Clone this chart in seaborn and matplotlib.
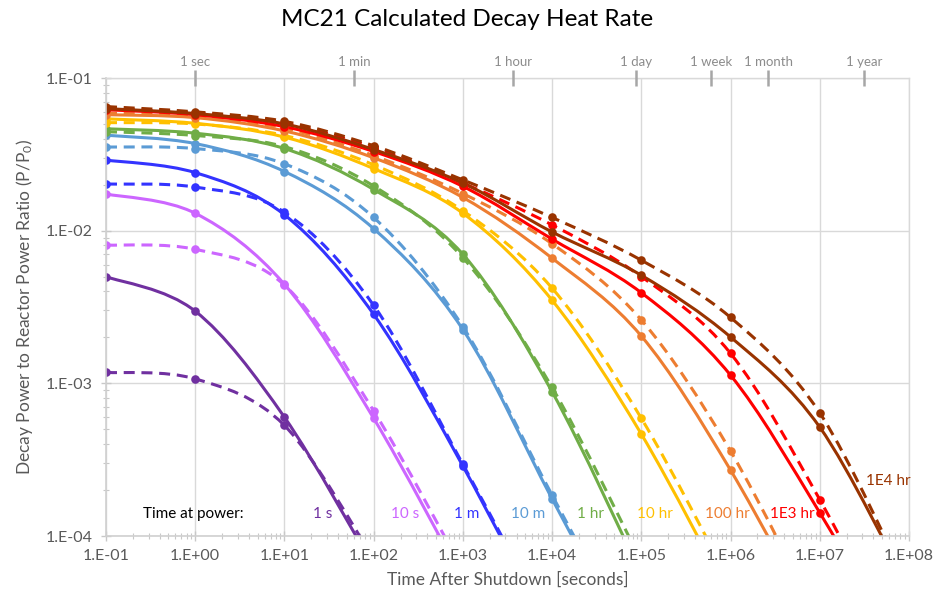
import numpy as np
import pandas as pd
import matplotlib
matplotlib.use("Agg")
import matplotlib.pyplot as plt
import matplotlib.ticker as mticker
from matplotlib.path import Path
from matplotlib.patches import PathPatch
import seaborn as sns

# ---------------- data ----------------
times = [1e-1, 1e0, 1e1, 1e2, 1e3, 1e4, 1e5, 1e6, 1e7, 1e8]
series_names = ["1 s", "10 s", "1 m", "10 m", "1 hr", "10 hr", "100 hr", "1E3 hr", "1E4 hr"]
series_colors = ["#7030A0", "#CC66FF", "#3333FF", "#5B9BD5", "#70AD47",
                 "#FFC000", "#ED7D31", "#FF0000", "#993300"]

# solid = calculated, dashed = comparison
solid_1s = [5.0e-3, 2.97e-3, 6.0e-4, 6.3e-5]
dash_1s = [1.18e-3, 1.07e-3, 5.3e-4, 7.1e-5]
solid_10s = [1.74e-2, 1.30e-2, 4.45e-3, 5.9e-4, 5.2e-5]
dash_10s = [8.05e-3, 7.55e-3, 4.4e-3, 6.6e-4, 6.0e-5]
solid_1m = [2.9e-2, 2.40e-2, 1.27e-2, 2.83e-3, 2.87e-4, 2.2e-5]
dash_1m = [2.02e-2, 1.93e-2, 1.32e-2, 3.24e-3, 2.95e-4, 2.4e-5]
solid_10m = [4.22e-2, 3.72e-2, 2.44e-2, 1.03e-2, 2.25e-3, 1.75e-4, 1.4e-5]
dash_10m = [3.53e-2, 3.45e-2, 2.74e-2, 1.22e-2, 2.35e-3, 1.85e-4, 1.5e-5]
solid_1hr = [4.65e-2, 4.35e-2, 3.45e-2, 1.86e-2, 7.0e-3, 8.8e-4, 5.6e-5]
dash_1hr = [4.45e-2, 4.2e-2, 3.55e-2, 1.96e-2, 6.65e-3, 9.4e-4, 6.8e-5]
solid_10hr = [5.4e-2, 5.05e-2, 4.1e-2, 2.55e-2, 1.30e-2, 3.5e-3, 4.65e-4, 3.9e-5]
dash_10hr = [5.1e-2, 5.0e-2, 4.2e-2, 2.7e-2, 1.35e-2, 4.2e-3, 5.9e-4, 4.9e-5]
solid_100hr = [5.75e-2, 5.5e-2, 4.5e-2, 3.0e-2, 1.65e-2, 6.6e-3, 2.04e-3, 2.7e-4, 2.3e-5]
dash_100hr = [5.9e-2, 5.6e-2, 4.7e-2, 3.1e-2, 1.75e-2, 8.2e-3, 2.6e-3, 3.6e-4, 2.7e-5]
solid_1e3hr = [6.2e-2, 5.75e-2, 4.8e-2, 3.3e-2, 1.95e-2, 8.8e-3, 3.92e-3, 1.13e-3, 1.42e-4, 1.36e-5]
dash_1e3hr = [6.3e-2, 5.9e-2, 5.05e-2, 3.5e-2, 2.05e-2, 1.09e-2, 5.0e-3, 1.57e-3, 1.73e-4, 1.3e-5]
solid_1e4hr = [6.3e-2, 5.85e-2, 5.0e-2, 3.4e-2, 2.05e-2, 9.8e-3, 5.1e-3, 2.01e-3, 5.16e-4, 4.5e-5]
dash_1e4hr = [6.5e-2, 6.0e-2, 5.2e-2, 3.6e-2, 2.15e-2, 1.22e-2, 6.4e-3, 2.7e-3, 6.4e-4, 4.6e-5]

solid_all = [solid_1s, solid_10s, solid_1m, solid_10m, solid_1hr,
             solid_10hr, solid_100hr, solid_1e3hr, solid_1e4hr]
dash_all = [dash_1s, dash_10s, dash_1m, dash_10m, dash_1hr,
            dash_10hr, dash_100hr, dash_1e3hr, dash_1e4hr]

# series label positions (data coords)
label_x = [27, 225, 1090, 5380, 26700, 1.43e5, 9.2e5, 4.9e6, 5.85e7]
label_y = [1.4e-4] * 8 + [2.3e-4]

top_tick_vals = [1, 60, 3600, 86400, 604800, 2.6298e6, 3.15576e7]
top_tick_labels = ["1 sec", "1 min", "1 hour", "1 day", "1 week", "1 month", "1 year"]

x_ticks = [1e-1, 1e0, 1e1, 1e2, 1e3, 1e4, 1e5, 1e6, 1e7, 1e8]
y_ticks = [1e-4, 1e-3, 1e-2, 1e-1]

# ---------------- build table ----------------
rows = []
for name, s_vals, d_vals in zip(series_names, solid_all, dash_all):
    for t, v in zip(times, s_vals):
        rows.append({"time": t, "ratio": v, "series": name, "kind": "solid"})
    for t, v in zip(times, d_vals):
        rows.append({"time": t, "ratio": v, "series": name, "kind": "dashed"})
df = pd.DataFrame(rows)

# ---------------- figure ----------------
sns.set_style("white")
plt.rcParams["font.family"] = ["Lato", "DejaVu Sans"]
plt.rcParams["mathtext.fontset"] = "custom"
plt.rcParams["mathtext.rm"] = "Lato"
plt.rcParams["mathtext.it"] = "Lato:italic"

fig = plt.figure(figsize=(9.34, 5.98), dpi=100)
ax = fig.add_axes([106 / 934, 1 - 536 / 598, 803 / 934, 458 / 598])
ax.set_xscale("log")
ax.set_yscale("log")
ax.set_xlim(1e-1, 1e8)
ax.set_ylim(1e-4, 1e-1)

palette = dict(zip(series_names, series_colors))


def smooth_path(xs, ys):
    """Spreadsheet-style smoothed line: cubic Bezier through the data points,
    control points taken from neighbouring points (in log-log display space)."""
    lx = np.log10(np.asarray(xs, float))
    ly = np.log10(np.asarray(ys, float))
    P = np.column_stack([lx, ly])
    n = len(P)
    verts = [P[0]]
    codes = [Path.MOVETO]
    for i in range(n - 1):
        p_prev = P[i - 1] if i > 0 else P[i]
        p_next2 = P[i + 2] if i + 2 < n else P[i + 1]
        c1 = P[i] + (P[i + 1] - p_prev) / 6.0
        c2 = P[i + 1] - (p_next2 - P[i]) / 6.0
        verts += [c1, c2, P[i + 1]]
        codes += [Path.CURVE4] * 3
    verts = 10 ** np.array(verts)
    return Path(verts, codes)


for n in series_names:
    for kind, ls in (("solid", "-"), ("dashed", (0, (3.6, 2.2)))):
        sub = df[(df.series == n) & (df.kind == kind)].sort_values("time")
        # smoothed connecting line through the data points
        patch = PathPatch(smooth_path(sub["time"], sub["ratio"]), facecolor="none",
                          edgecolor=palette[n], linewidth=2.2, linestyle=ls,
                          transform=ax.transData, capstyle="butt")
        ax.add_patch(patch)
        # data markers
        sns.lineplot(data=sub, x="time", y="ratio", ax=ax, color=palette[n],
                     estimator=None, sort=True, legend=False, linestyle="none",
                     marker="o", markersize=6.2, markeredgewidth=0)

ax.set_xlim(1e-1, 1e8)
ax.set_ylim(1e-4, 1e-1)


def sci_fmt(v, pos):
    e = int(round(np.log10(v)))
    return f"1.E{e:+03d}"


ax.xaxis.set_major_locator(mticker.FixedLocator(x_ticks))
ax.yaxis.set_major_locator(mticker.FixedLocator(y_ticks))
ax.xaxis.set_major_formatter(mticker.FuncFormatter(sci_fmt))
ax.yaxis.set_major_formatter(mticker.FuncFormatter(sci_fmt))
ax.xaxis.set_minor_locator(mticker.LogLocator(base=10, subs=np.arange(2, 10), numticks=20))
ax.yaxis.set_minor_locator(mticker.LogLocator(base=10, subs=np.arange(2, 10), numticks=20))
ax.xaxis.set_minor_formatter(mticker.NullFormatter())
ax.yaxis.set_minor_formatter(mticker.NullFormatter())

ax.grid(True, which="major", color="#D9D9D9", linewidth=1.0)
ax.set_axisbelow(True)
for sp in ["top", "right"]:
    ax.spines[sp].set_color("#D9D9D9")
    ax.spines[sp].set_linewidth(1.0)
for sp in ["left", "bottom"]:
    ax.spines[sp].set_color("#D0D0D0")
    ax.spines[sp].set_linewidth(1.2)

ax.tick_params(axis="both", which="major", direction="inout", length=7, width=1,
               color="#C8C8C8", labelsize=11.5, labelcolor="#595959", pad=6)
ax.tick_params(axis="both", which="minor", direction="inout", length=5, width=0.8,
               color="#C8C8C8")
ax.tick_params(axis="x", which="both", bottom=True, top=False)
ax.tick_params(axis="y", which="both", left=True, right=False)

ax.set_xlabel("Time After Shutdown [seconds]", fontsize=12.5, color="#595959", labelpad=6)
ax.set_ylabel("Decay Power to Reactor Power Ratio (P/P$_0$)", fontsize=12.5,
              color="#595959", labelpad=8)

# top time axis
ax2 = ax.twiny()
ax2.set_xscale("log")
ax2.set_xlim(ax.get_xlim())
ax2.xaxis.set_major_locator(mticker.FixedLocator(top_tick_vals))
ax2.xaxis.set_major_formatter(mticker.FixedFormatter(top_tick_labels))
ax2.xaxis.set_minor_locator(mticker.NullLocator())
ax2.tick_params(axis="x", which="major", direction="inout", length=11, width=1.8,
                color="#A6A6A6", labelsize=9.5, labelcolor="#8C8C8C", pad=2)
for sp in ax2.spines.values():
    sp.set_visible(False)

# labels
ax.text(0.94, 1.4e-4, "Time at power:", fontsize=11, color="black", ha="center", va="center")
for n, c, lx, ly in zip(series_names, series_colors, label_x, label_y):
    ax.text(lx, ly, n, fontsize=11, color=c, ha="center", va="center")

fig.suptitle("MC21 Calculated Decay Heat Rate", fontsize=17.5, y=0.985, color="#000000")

fig.savefig("out.png", dpi=100)
